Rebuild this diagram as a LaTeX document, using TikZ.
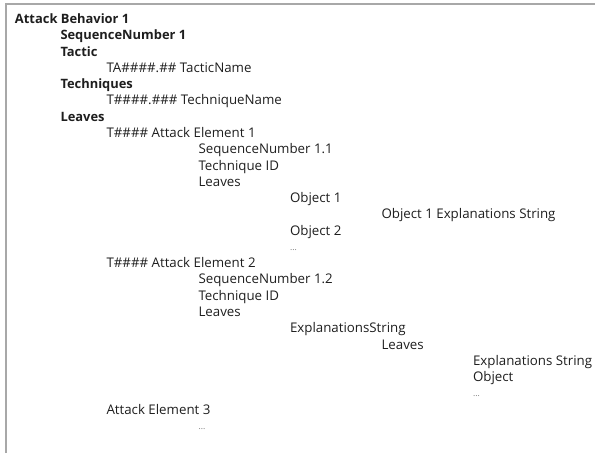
\documentclass[tikz,border=0pt]{standalone}
\usepackage{fontspec}
\setmainfont{Open Sans}
\definecolor{txt}{HTML}{1E1E1E}
\definecolor{frame}{HTML}{A8A8A8}
\tikzset{
  t/.style={anchor=base west, inner sep=0pt, outer sep=0pt, text=txt, font=\fontsize{13.3}{15}\selectfont},
  tb/.style={t, font=\fontsize{12.9}{15}\selectfont\bfseries},
  dots/.style={t, font=\fontsize{8.5}{9}\selectfont, text=txt!60}
}
\begin{document}
\begin{tikzpicture}[x=1pt,y=-1pt]
\useasboundingbox (0,0) rectangle (595,453);
\draw[frame, line width=2pt] (5.5,453) -- (5.5,3.5) -- (595,3.5);
\def\b#1{\fpeval{23.5+16.28*#1}}
\node[tb] (ab)   at (15,{\b{0}})   {Attack Behavior 1};
\node[tb] (sn)   at (60.5,{\b{1}}) {SequenceNumber 1};
\node[tb] (tac)  at (60.5,{\b{2}}) {Tactic};
\node[t]  (tan)  at (106.5,{\b{3}}) {TA\#\#\#\#.\#\# TacticName};
\node[tb] (tech) at (60.5,{\b{4}}) {Techniques};
\node[t]  (ten)  at (106.5,{\b{5}}) {T\#\#\#\#.\#\#\# TechniqueName};
\node[tb] (lv)   at (60.5,{\b{6}}) {Leaves};
\node[t]  (ae1)  at (106.5,{\b{7}}) {T\#\#\#\# Attack Element 1};
\node[t]  (sn1)  at (198.5,{\b{8}}) {SequenceNumber 1.1};
\node[t]  (tid1) at (198.5,{\b{9}}) {Technique ID};
\node[t]  (lv1)  at (198.5,{\b{10}}) {Leaves};
\node[t]  (o1)   at (290,{\b{11}}) {Object 1};
\node[t]  (o1e)  at (381.5,{\b{12}}) {Object 1 Explanations String};
\node[t]  (o2)   at (290,{\b{13}}) {Object 2};
\node[dots] (d1) at (290,{\b{14}-1}) {...};
\node[t]  (ae2)  at (106.5,{\b{15}}) {T\#\#\#\# Attack Element 2};
\node[t]  (sn2)  at (198.5,{\b{16}}) {SequenceNumber 1.2};
\node[t]  (tid2) at (198.5,{\b{17}}) {Technique ID};
\node[t]  (lv2)  at (198.5,{\b{18}}) {Leaves};
\node[t]  (es)   at (290,{\b{19}}) {ExplanationsString};
\node[t]  (lv3)  at (381.5,{\b{20}}) {Leaves};
\node[t]  (es2)  at (473,{\b{21}}) {Explanations String};
\node[t]  (obj)  at (473,{\b{22}}) {Object};
\node[dots] (d2) at (473,{\b{23}-1}) {...};
\node[t]  (ae3)  at (106.5,{\b{24}}) {Attack Element 3};
\node[dots] (d3) at (198.5,{\b{25}-1}) {...};
\end{tikzpicture}
\end{document}
